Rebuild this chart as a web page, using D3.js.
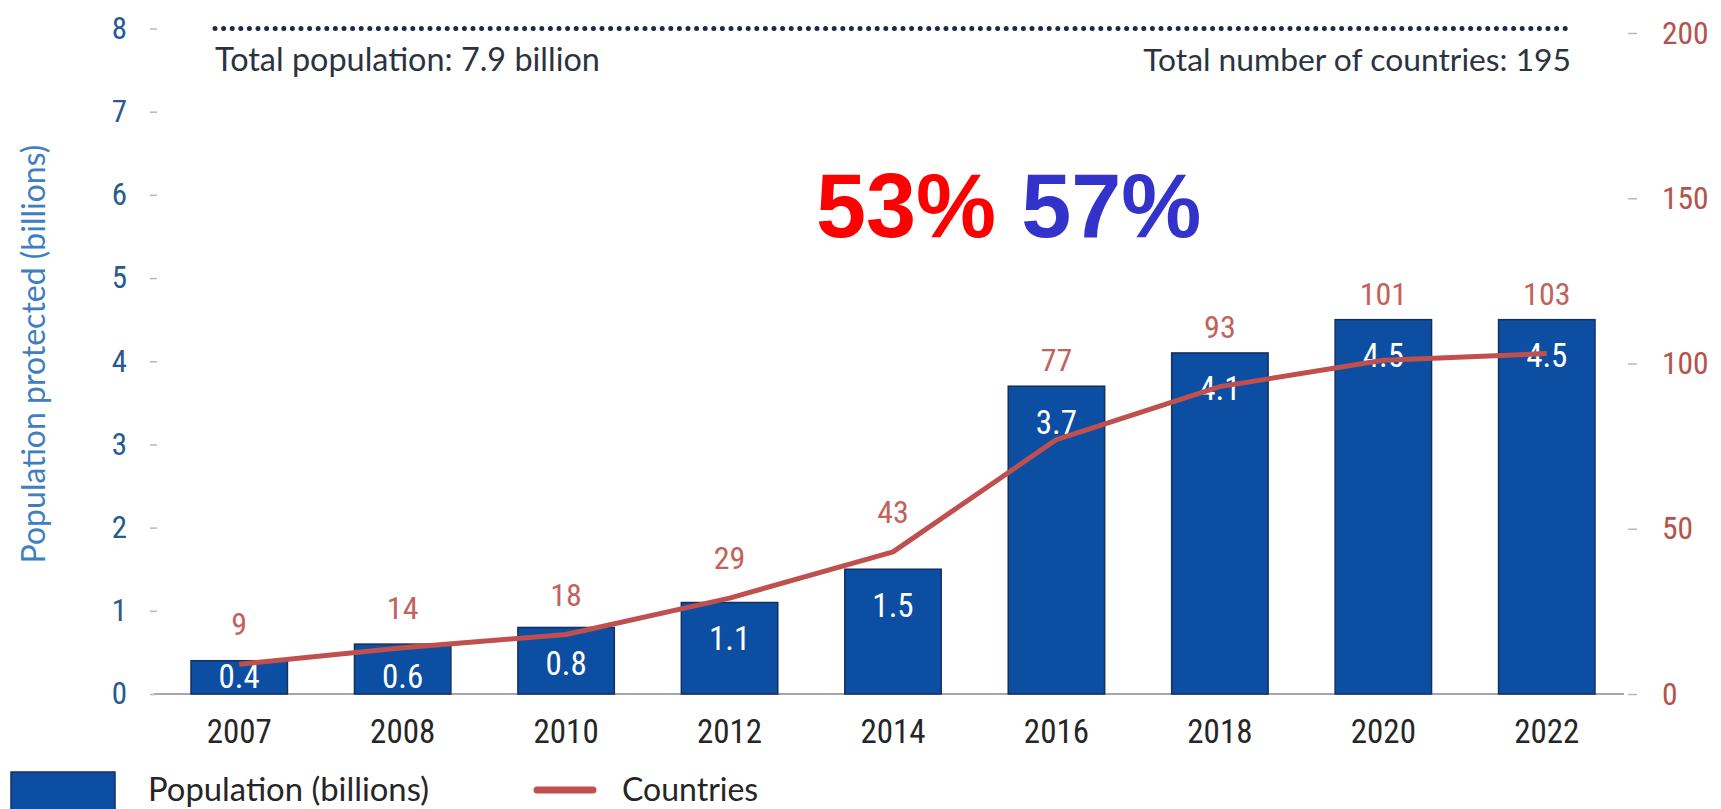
<!DOCTYPE html>
<html>
<head>
<meta charset="utf-8">
<script src="https://cdn.jsdelivr.net/npm/d3@7"></script>
<style>
  html, body { margin: 0; padding: 0; background: #ffffff; }
  svg { display: block; }
  .num { font-family: "Liberation Sans Narrow", "Arial Narrow", "Roboto Condensed", "DejaVu Sans Condensed", sans-serif; }
  .txt { font-family: Lato, "Open Sans", sans-serif; }
</style>
</head>
<body>
<svg id="chart" width="1721" height="809"></svg>
<script>
// ---- data ----
const years = ["2007", "2008", "2010", "2012", "2014", "2016", "2018", "2020", "2022"];
const population = [0.4, 0.6, 0.8, 1.1, 1.5, 3.7, 4.1, 4.5, 4.5];
const countries = [9, 14, 18, 29, 43, 77, 93, 101, 103];
const leftTicks = [0, 1, 2, 3, 4, 5, 6, 7, 8];
const rightTicks = [0, 50, 100, 150, 200];
const totalPopulationLabel = "Total population: 7.9 billion";
const totalCountriesLabel = "Total number of countries: 195";
const shareLabels = ["53%", "57%"];
const legendLabels = ["Population (billions)", "Countries"];
const yTitle = "Population protected (billions)";

// ---- colours ----
const barColor = "#0b4ea2";
const barStroke = "#16305c";
const lineColor = "#c0504d";
const countryLabelColor = "#c2625b";
const leftTickColor = "#285a8f";
const rightTickColor = "#b5524c";

const svg = d3.select("#chart");

const x = d3.scaleBand().domain(years).range([157.5, 1628.5]).paddingInner(0.41).paddingOuter(0.205);
const yL = d3.scaleLinear().domain([0, 8]).range([694, 28.5]);
const yR = d3.scaleLinear().domain([0, 200]).range([694, 33]);

// baseline
svg.append("line")
  .attr("x1", 154).attr("x2", 1624)
  .attr("y1", yL(0)).attr("y2", yL(0))
  .attr("stroke", "#a3a7ad").attr("stroke-width", 2);

// left axis
const gL = svg.append("g").attr("transform", "translate(157,0)")
  .call(d3.axisLeft(yL).tickValues(leftTicks).tickSize(7).tickPadding(23).tickFormat(d3.format("d")));
gL.select(".domain").remove();
gL.selectAll(".tick line").attr("stroke", "#b8b8b8").attr("stroke-width", 1.5);
gL.selectAll(".tick text").attr("class", "num").attr("font-size", 31).attr("fill", leftTickColor);

// right axis
const gR = svg.append("g").attr("transform", "translate(1628,0)")
  .call(d3.axisRight(yR).tickValues(rightTicks).tickSize(9).tickPadding(25));
gR.select(".domain").remove();
gR.selectAll(".tick line").attr("stroke", "#b8b8b8").attr("stroke-width", 1.5);
gR.selectAll(".tick text").attr("class", "num").attr("font-size", 31.5).attr("fill", rightTickColor);

// x axis labels
const gX = svg.append("g").attr("transform", `translate(0,${yL(0)})`)
  .call(d3.axisBottom(x).tickSize(0).tickPadding(26));
gX.select(".domain").remove();
gX.selectAll(".tick text").attr("class", "num").attr("font-size", 33).attr("fill", "#262626");

// y title
svg.append("text").attr("class", "txt")
  .attr("transform", "translate(45,354) rotate(-90)")
  .attr("text-anchor", "middle")
  .attr("font-size", 32)
  .attr("fill", "#3f7fc0")
  .text(yTitle);

// total line (dotted)
svg.append("line")
  .attr("x1", 215).attr("x2", 1571)
  .attr("y1", yL(yL.domain()[1])).attr("y2", yL(yL.domain()[1]))
  .attr("stroke", "#1c2a4a").attr("stroke-width", 5)
  .attr("stroke-linecap", "round").attr("stroke-dasharray", "0 8.6");

svg.append("text").attr("class", "txt")
  .attr("x", 215).attr("y", 71)
  .attr("font-size", 32.4).attr("fill", "#2c3340")
  .text(totalPopulationLabel);
svg.append("text").attr("class", "txt")
  .attr("x", 1571).attr("y", 71).attr("text-anchor", "end")
  .attr("font-size", 31.8).attr("fill", "#2c3340")
  .text(totalCountriesLabel);

// bars
svg.append("g").selectAll("rect").data(years).join("rect")
  .attr("x", d => x(d))
  .attr("width", x.bandwidth())
  .attr("y", (d, i) => yL(population[i]))
  .attr("height", (d, i) => yL(0) - yL(population[i]))
  .attr("fill", barColor)
  .attr("stroke", barStroke).attr("stroke-width", 1.5);

// bar value labels
svg.append("g").selectAll("text").data(years).join("text")
  .attr("class", "num")
  .attr("x", d => x(d) + x.bandwidth() / 2)
  .attr("y", (d, i) => Math.min(yL(population[i]) + 36, yL(0) - 18))
  .attr("dy", "0.35em")
  .attr("text-anchor", "middle")
  .attr("font-size", 33)
  .attr("fill", "#ffffff")
  .text((d, i) => population[i].toFixed(1));

// countries line
const line = d3.line()
  .x((d, i) => x(years[i]) + x.bandwidth() / 2)
  .y(d => yR(d))
  .curve(d3.curveLinear);
svg.append("path").datum(countries)
  .attr("d", line)
  .attr("fill", "none")
  .attr("stroke", lineColor)
  .attr("stroke-width", 5)
  .attr("stroke-linejoin", "round");

// countries labels
svg.append("g").selectAll("text").data(years).join("text")
  .attr("class", "num")
  .attr("x", d => x(d) + x.bandwidth() / 2)
  .attr("y", (d, i) => Math.min(yR(countries[i]) - 40, yL(population[i]) - 26))
  .attr("dy", "0.35em")
  .attr("text-anchor", "middle")
  .attr("font-size", 32)
  .attr("fill", countryLabelColor)
  .text((d, i) => countries[i]);

// big share text
const big = svg.append("text")
  .attr("x", 816).attr("y", 237)
  .attr("font-family", "'Liberation Sans', Arial, sans-serif")
  .attr("font-weight", "bold")
  .attr("font-size", 90);
big.append("tspan").attr("fill", "#ff0000").text(shareLabels[0]);
big.append("tspan").attr("fill", "#3333cc").text(" " + shareLabels[1]);

// legend
svg.append("rect")
  .attr("x", 11).attr("y", 772).attr("width", 104).attr("height", 40)
  .attr("fill", barColor).attr("stroke", barStroke).attr("stroke-width", 1.5);
svg.append("text").attr("class", "txt")
  .attr("x", 148).attr("y", 790).attr("dy", "0.35em")
  .attr("font-size", 32.8).attr("fill", "#262626")
  .text(legendLabels[0]);
svg.append("line")
  .attr("x1", 537).attr("x2", 593).attr("y1", 790).attr("y2", 790)
  .attr("stroke", lineColor).attr("stroke-width", 7).attr("stroke-linecap", "round");
svg.append("text").attr("class", "txt")
  .attr("x", 622).attr("y", 790).attr("dy", "0.35em")
  .attr("font-size", 32).attr("fill", "#262626")
  .text(legendLabels[1]);
</script>
</body>
</html>
